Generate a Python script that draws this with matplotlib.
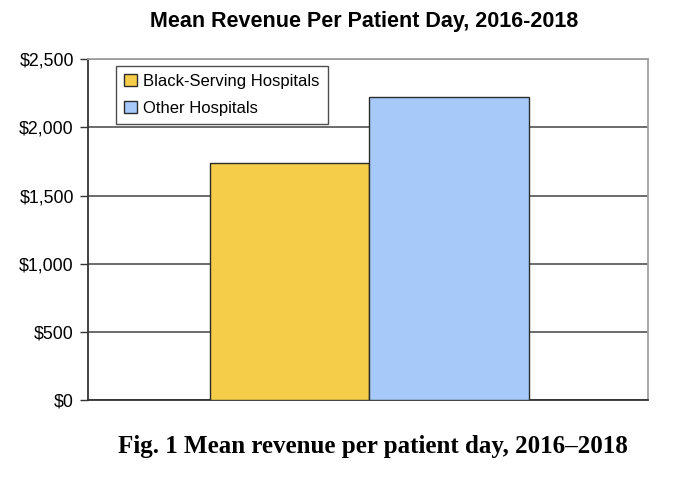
import matplotlib.pyplot as plt
from matplotlib.ticker import FuncFormatter

plt.rcParams['font.family'] = ['Liberation Sans', 'DejaVu Sans']

grupos = ["Black-Serving Hospitals", "Other Hospitals"]
ingreso = [1738, 2220]
colores = ["#F6CD48", "#A6C9F9"]
yticks = [0, 500, 1000, 1500, 2000, 2500]

fig = plt.figure(figsize=(6.8, 4.86), dpi=100)
ax = fig.add_axes([0.129, 0.177, 0.824, 0.701])

for i, (g, v, c) in enumerate(zip(grupos, ingreso, colores)):
    ax.bar(i, v, width=1.0, color=c, edgecolor="#2b2b2b", linewidth=1.0,
           label=g, zorder=3)

ax.set_xlim(-1.27, 2.25)
ax.set_ylim(0, 2500)
ax.set_yticks(yticks)
ax.yaxis.set_major_formatter(FuncFormatter(lambda v, p: f"${v:,.0f}"))
ax.tick_params(axis="y", labelsize=12.8, length=6, width=1, color="#333333", pad=4)
ax.set_xticks([])

ax.grid(axis="y", color="#444444", linewidth=1.1, zorder=0)
for s in ["left", "bottom"]:
    ax.spines[s].set_color("#333333")
    ax.spines[s].set_linewidth(1.3)
for s in ["top", "right"]:
    ax.spines[s].set_color("#a0a0a0")
    ax.spines[s].set_linewidth(1.3)

# leyenda dentro del area, arriba a la izquierda
leg = ax.legend(loc="upper left", bbox_to_anchor=(0.05, 0.981), borderaxespad=0,
                fontsize=12, frameon=True, fancybox=False, handlelength=0.75,
                handleheight=0.75, handletextpad=0.4, labelspacing=0.72,
                borderpad=0.5)
leg.get_frame().set_edgecolor("#222222")
leg.get_frame().set_linewidth(1.0)

fig.text(0.536, 0.956, "Mean Revenue Per Patient Day, 2016-2018",
         ha="center", va="center", fontsize=15.5, fontweight="bold")
fig.text(0.548, 0.081, "Fig. 1 Mean revenue per patient day, 2016\u20132018",
         ha="center", va="center", fontsize=18, fontweight="bold",
         family=["Liberation Serif", "DejaVu Serif"])

fig.savefig("out.png", dpi=100)
